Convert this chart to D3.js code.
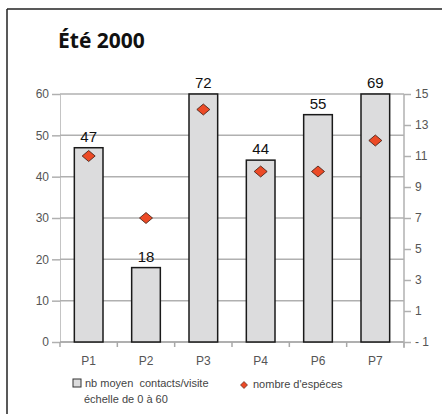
<!DOCTYPE html>
<html>
<head>
<meta charset="utf-8">
<script src="https://cdn.jsdelivr.net/npm/d3@7"></script>
<style>
  body { margin: 0; background: #fff; }
  svg { display: block; }
</style>
</head>
<body>
<script>
// data
const sites = ["P1", "P2", "P3", "P4", "P6", "P7"];
const contacts = [47, 18, 72, 44, 55, 69];   // nb moyen contacts/visite (bars capped at 60)
const species = [11, 7, 14, 10, 10, 12];     // nombre d'espèces (right axis)
const leftTicks = [0, 10, 20, 30, 40, 50, 60];
const rightTicks = [-1, 1, 3, 5, 7, 9, 11, 13, 15];

const W = 442, H = 414;
const plotLeft = 60, plotRight = 404, plotTop = 94, plotBottom = 342;

const svg = d3.select("body").append("svg").attr("width", W).attr("height", H);

// frame
svg.append("line").attr("x1", 7).attr("x2", W).attr("y1", 9).attr("y2", 9)
  .style("stroke", "#222").style("stroke-width", "1.5px");
svg.append("line").attr("x1", 7).attr("x2", 7).attr("y1", 9).attr("y2", H)
  .style("stroke", "#222").style("stroke-width", "1.5px");

svg.append("text").attr("x", 58).attr("y", 48)
  .style("font-family", "'Open Sans', sans-serif").style("font-weight", 700)
  .style("font-size", "21px").style("fill", "#111")
  .text("Été 2000");

const xScale = d3.scaleBand().domain(sites).range([plotLeft, plotRight]).paddingInner(0.5).paddingOuter(0.25);
const yLeft = d3.scaleLinear().domain([0, 60]).range([plotBottom, plotTop]);
const yRight = d3.scaleLinear().domain([-1, 15]).range([plotBottom, plotTop]);

// left axis
const yAxisL = d3.axisLeft(yLeft).tickValues(leftTicks).tickSize(8).tickPadding(3);
const gL = svg.append("g").attr("transform", "translate(" + plotLeft + ",0)").call(yAxisL);
gL.select(".domain").attr("stroke", "#c4c4c4");
gL.selectAll(".tick line").attr("stroke", "#b0b0b0").attr("stroke-width", 1.5);
gL.selectAll(".tick text").style("font-family", "'Liberation Sans', Arial, sans-serif")
  .style("font-size", "12px").style("fill", "#555");

// gridlines
svg.append("g").selectAll("line.grid")
  .data(leftTicks)
  .enter()
  .append("line")
  .attr("class", "grid")
  .attr("x1", plotLeft).attr("x2", plotRight)
  .attr("y1", d => yLeft(d)).attr("y2", d => yLeft(d))
  .style("stroke", "#b0b0b0").style("stroke-width", "1.5px");

// bottom axis: ticks at band boundaries
const step = xScale.step();
const bounds = d3.range(sites.length + 1).map(i => plotLeft + i * step);
svg.append("line").attr("x1", plotLeft).attr("x2", plotRight).attr("y1", plotBottom).attr("y2", plotBottom)
  .style("stroke", "#a8a8a8").style("stroke-width", "1.5px");
svg.append("g").selectAll("line")
  .data(bounds)
  .enter()
  .append("line")
  .attr("x1", d => d).attr("x2", d => d)
  .attr("y1", plotBottom).attr("y2", plotBottom + 5)
  .style("stroke", "#a8a8a8").style("stroke-width", "1.5px");
svg.append("g").selectAll("text")
  .data(sites)
  .enter()
  .append("text")
  .attr("x", d => xScale(d) + xScale.bandwidth() / 2)
  .attr("y", 365)
  .attr("text-anchor", "middle")
  .style("font-family", "'Liberation Sans', Arial, sans-serif")
  .style("font-size", "12px").style("fill", "#555")
  .text(d => d);

// right axis
const yAxisR = d3.axisRight(yRight).tickValues(rightTicks).tickSize(7).tickPadding(4)
  .tickFormat(d => d < 0 ? "- " + Math.abs(d) : d);
const gR = svg.append("g").attr("transform", "translate(" + plotRight + ",0)").call(yAxisR);
gR.select(".domain").attr("d", "M0," + plotTop + "V" + (plotBottom + 6)).attr("stroke", "#b0b0b0").attr("stroke-width", 1.5);
gR.selectAll(".tick line").attr("stroke", "#b0b0b0").attr("stroke-width", 1.5);
gR.selectAll(".tick text").style("font-family", "'Liberation Sans', Arial, sans-serif")
  .style("font-size", "12px").style("fill", "#555");

// bars
const bars = svg.append("g").selectAll("g.bar")
  .data(sites.map((s, i) => ({ site: s, v: contacts[i], n: species[i] })))
  .enter()
  .append("g")
  .attr("class", "bar");

bars.append("rect")
  .attr("x", d => xScale(d.site))
  .attr("width", xScale.bandwidth())
  .attr("y", d => yLeft(Math.min(d.v, 60)))
  .attr("height", d => plotBottom - yLeft(Math.min(d.v, 60)))
  .style("fill", "#dcdcdd")
  .style("stroke", "#1a1a1a")
  .style("stroke-width", "1.5px");

bars.append("text")
  .attr("x", d => xScale(d.site) + xScale.bandwidth() / 2)
  .attr("y", d => yLeft(Math.min(d.v, 60)) - 6)
  .attr("text-anchor", "middle")
  .style("font-family", "'Liberation Sans', Arial, sans-serif")
  .style("font-size", "15px").style("fill", "#111")
  .text(d => d.v);

// diamonds
function diamond(cx, cy, rx, ry) {
  const p = d3.path();
  p.moveTo(cx, cy - ry);
  p.lineTo(cx + rx, cy);
  p.lineTo(cx, cy + ry);
  p.lineTo(cx - rx, cy);
  p.closePath();
  return p.toString();
}

bars.append("path")
  .attr("d", d => diamond(xScale(d.site) + xScale.bandwidth() / 2, yRight(d.n), 6.5, 5.5))
  .style("fill", "#ec4a26")
  .style("stroke", "#3a1a10")
  .style("stroke-width", "0.8px");

// legend
const legend = svg.append("g")
  .style("font-family", "'Liberation Sans', Arial, sans-serif")
  .style("font-size", "11px").style("fill", "#444");
legend.append("rect").attr("x", 73).attr("y", 379).attr("width", 8).attr("height", 8)
  .style("fill", "#dcdcdd").style("stroke", "#333").style("stroke-width", "1px");
legend.append("text").attr("x", 85).attr("y", 387).style("white-space", "pre")
  .text("nb moyen  contacts/visite");
legend.append("text").attr("x", 84).attr("y", 403).text("échelle de 0 à 60");
legend.append("path").attr("d", diamond(244, 385, 3.5, 3.5))
  .style("fill", "#ec4a26").style("stroke", "#3a1a10").style("stroke-width", "0.6px");
legend.append("text").attr("x", 253).attr("y", 388).text("nombre d'espéces");
</script>
</body>
</html>
